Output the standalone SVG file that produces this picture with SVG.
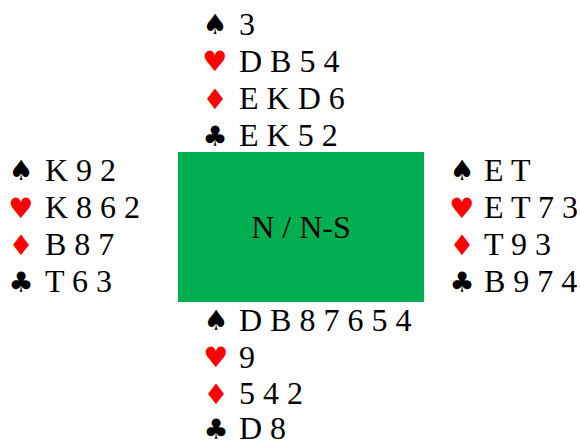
<svg xmlns="http://www.w3.org/2000/svg" width="580" height="442" viewBox="0 0 580 442">
<style>
.t{font-family:'Liberation Serif','Times New Roman','DejaVu Serif',serif;font-size:32px;fill:#000}
.s{font-family:'DejaVu Sans',sans-serif;font-size:28px;text-anchor:middle}
.b{fill:#000}
.r{fill:#FF0000}
</style>
<rect width="580" height="442" fill="#fff"/>
<g id="table">
<rect x="178" y="152" width="246" height="150" fill="#00B050"/>
<text class="t" x="301" y="238" text-anchor="middle">N / N-S</text>
</g>
<g id="north">
<text class="s b" x="215" y="34">♠</text><text class="t" x="239" y="35">3</text>
<text class="s r" x="215" y="71">♥</text><text class="t" x="239" y="72">D B 5 4</text>
<text class="s r" x="215" y="109">♦</text><text class="t" x="239" y="109">E K D 6</text>
<text class="s b" x="215" y="146">♣</text><text class="t" x="239" y="146">E K 5 2</text>
</g>
<g id="west">
<text class="s b" x="21" y="180">♠</text><text class="t" x="45" y="181">K 9 2</text>
<text class="s r" x="21" y="218">♥</text><text class="t" x="45" y="218">K 8 6 2</text>
<text class="s r" x="21" y="255">♦</text><text class="t" x="45" y="255">B 8 7</text>
<text class="s b" x="21" y="292">♣</text><text class="t" x="45" y="292">T 6 3</text>
</g>
<g id="east">
<text class="s b" x="462" y="180">♠</text><text class="t" x="484" y="181">E T</text>
<text class="s r" x="462" y="218">♥</text><text class="t" x="484" y="218">E T 7 3</text>
<text class="s r" x="462" y="255">♦</text><text class="t" x="484" y="255">T 9 3</text>
<text class="s b" x="462" y="292">♣</text><text class="t" x="484" y="292">B 9 7 4</text>
</g>
<g id="south">
<text class="s b" x="216" y="330">♠</text><text class="t" x="239" y="331">D B 8 7 6 5 4</text>
<text class="s r" x="216" y="367">♥</text><text class="t" x="239" y="368">9</text>
<text class="s r" x="216" y="404">♦</text><text class="t" x="239" y="404">5 4 2</text>
<text class="s b" x="216" y="439">♣</text><text class="t" x="239" y="439">D 8</text>
</g>
<g id="connectors"></g>
</svg>
